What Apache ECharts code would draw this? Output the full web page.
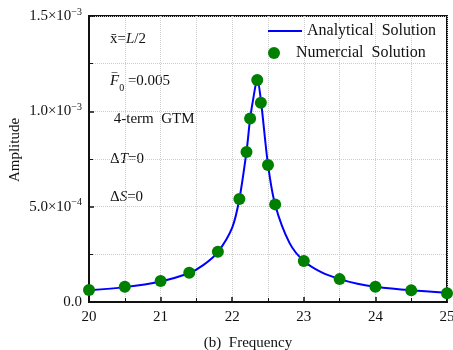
<!DOCTYPE html>
<html>
<head>
<meta charset="utf-8">
<script src="https://cdn.jsdelivr.net/npm/echarts@6/dist/echarts.min.js"></script>
<style>
  html, body { margin: 0; padding: 0; background: #fff; }
  #chart { width: 453px; height: 350px; }
</style>
</head>
<body>
<div id="chart"></div>
<script>
// analytical curve
const lineX = [20, 20.5, 21, 21.4, 21.6, 21.8, 22.0, 22.1, 22.2, 22.25, 22.3, 22.35, 22.4, 22.5, 22.6, 22.8, 23, 23.25, 23.5, 23.75, 24, 24.5, 25];
const lineY = [6.2e-5, 7.8e-5, 1.08e-4, 1.52e-4, 1.95e-4, 2.62e-4, 3.9e-4, 5.4e-4, 7.9e-4, 9.6e-4, 1.08e-3, 1.17e-3, 1.06e-3, 7.2e-4, 5.1e-4, 3.1e-4, 2.15e-4, 1.55e-4, 1.2e-4, 9.6e-5, 8.0e-5, 6.1e-5, 4.8e-5];

// numerical points
const dotX = [20, 20.5, 21, 21.4, 21.8, 22.1, 22.2, 22.25, 22.35, 22.4, 22.5, 22.6, 23, 23.5, 24, 24.5, 25];
const dotY = [6.3e-5, 8.0e-5, 1.1e-4, 1.54e-4, 2.64e-4, 5.4e-4, 7.87e-4, 9.63e-4, 1.164e-3, 1.045e-3, 7.18e-4, 5.12e-4, 2.15e-4, 1.2e-4, 8.0e-5, 6.1e-5, 4.6e-5];

const yTickMant = ['0.0', '5.0', '1.0', '1.5'];
const yTickExp = ['', '\u22124', '\u22123', '\u22123'];

const seriesNames = ['Analytical  Solution', 'Numercial  Solution'];

const FONT = '"Liberation Serif", "DejaVu Serif", serif';

const chart = echarts.init(document.getElementById('chart'));

const annText = (left, top, text, lineHeight) => ({
  type: 'text',
  left,
  top,
  style: {
    text,
    fontFamily: FONT,
    fontSize: 15,
    fill: '#111',
    lineHeight,
    rich: {
      i: { fontFamily: FONT, fontSize: 15, fontStyle: 'italic', fill: '#111', lineHeight },
      sub: { fontFamily: FONT, fontSize: 10, fill: '#111', verticalAlign: 'bottom', lineHeight: 8 },
    },
  },
});

const legendText = { fontFamily: FONT, fontSize: 16, color: '#111' };

chart.setOption({
  animation: false,
  grid: {
    left: 89, right: 6, top: 16, bottom: 48,
    outerBoundsMode: 'none',
    show: true, borderColor: '#111', borderWidth: 2,
  },
  legend: [
    {
      left: 268, top: 23, padding: 0,
      itemWidth: 34, itemHeight: 2,
      textStyle: legendText,
      data: [{ name: seriesNames[0], icon: 'rect' }],
    },
    {
      left: 268, top: 45, padding: 0,
      itemWidth: 34, itemHeight: 12,
      textStyle: legendText,
      data: [{ name: seriesNames[1], icon: 'circle' }],
    },
  ],
  xAxis: {
    type: 'value',
    min: 20, max: 25, interval: 1,
    name: '(b)  Frequency',
    nameLocation: 'middle',
    nameGap: 34,
    nameTextStyle: { fontFamily: FONT, fontSize: 15, color: '#111', padding: [0, 40, 0, 0] },
    axisLine: { lineStyle: { color: '#111', width: 2 } },
    axisTick: { inside: true, length: 5, lineStyle: { color: '#111', width: 1.5 } },
    minorTick: { show: true, splitNumber: 2, length: 4, lineStyle: { color: '#111' } },
    axisLabel: { fontFamily: FONT, fontSize: 15, color: '#111', margin: 8 },
    splitLine: { show: true, lineStyle: { color: '#ccc', type: 'dotted' } },
    minorSplitLine: { show: true, lineStyle: { color: '#ccc', type: 'dotted' } },
  },
  yAxis: {
    type: 'value',
    min: 0, max: 1.5e-3, interval: 5e-4,
    name: 'Amplitude',
    nameLocation: 'middle',
    nameGap: 66,
    nameMoveOverlap: false,
    nameTextStyle: { fontFamily: FONT, fontSize: 15, color: '#111', padding: [0, 0, 0, 18] },
    axisLine: { lineStyle: { color: '#111', width: 2 } },
    axisTick: { inside: true, length: 5, lineStyle: { color: '#111', width: 1.5 } },
    minorTick: { show: true, splitNumber: 2, length: 4, lineStyle: { color: '#111' } },
    axisLabel: {
      fontFamily: FONT, fontSize: 15, color: '#111', margin: 7,
      formatter: (v) => {
        const i = Math.round(v / 5e-4);
        if (!yTickExp[i]) return '{m|' + yTickMant[i] + '}';
        return '{m|' + yTickMant[i] + '\u00d710}{e|' + yTickExp[i] + '}';
      },
      rich: {
        m: { fontFamily: FONT, fontSize: 15, color: '#111', lineHeight: 18 },
        e: { fontFamily: FONT, fontSize: 10, color: '#111', verticalAlign: 'top', lineHeight: 12 },
      },
    },
    splitLine: { show: true, lineStyle: { color: '#ccc', type: 'dotted' } },
    minorSplitLine: { show: true, lineStyle: { color: '#ccc', type: 'dotted' } },
  },
  graphic: [
    annText(110, 30, 'x\u0304={i|L}/2', 18),
    annText(110, 69, '{i|F}{sub|0} =0.005', 24),
    annText(112, 71, '\u203e', 18),
    annText(110, 110, ' 4-term  GTM', 18),
    annText(110, 150, '\u0394{i|T}=0', 18),
    annText(110, 188, '\u0394{i|S}=0', 18),
  ],
  series: [
    {
      name: seriesNames[0],
      type: 'line',
      data: lineX.map((x, i) => [x, lineY[i]]),
      smooth: 0.3,
      symbol: 'none',
      lineStyle: { color: '#0000ff', width: 2 },
      itemStyle: { color: '#0000ff' },
      z: 2,
    },
    {
      name: seriesNames[1],
      type: 'scatter',
      data: dotX.map((x, i) => [x, dotY[i]]),
      symbolSize: 12,
      itemStyle: { color: '#008000', opacity: 1 },
      z: 3,
    },
  ],
});
</script>
</body>
</html>
